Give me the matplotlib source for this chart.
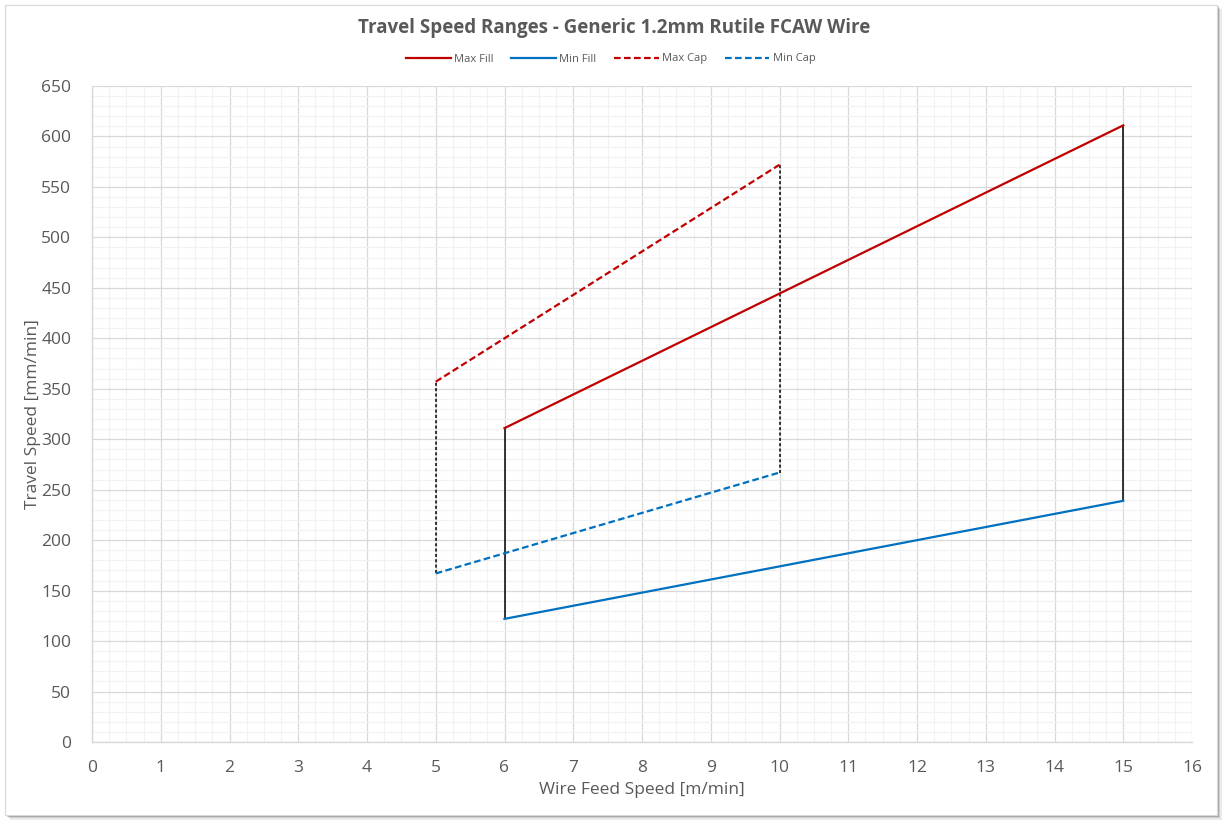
import matplotlib.pyplot as plt
from matplotlib.patches import Rectangle
from matplotlib.ticker import MultipleLocator

# data
fill_wfs = [6, 15]
max_fill = [311, 611]
min_fill = [122, 239]
cap_wfs = [5, 10]
max_cap = [357, 572]
min_cap = [167, 267]

plt.rcParams['font.family'] = ['Open Sans', 'DejaVu Sans']
grey_text = '#595959'

fig = plt.figure(figsize=(12.29, 8.30), dpi=100)

# chart frame with a soft shadow, like the spreadsheet chart box
for i, a in enumerate([0.08, 0.12, 0.18]):
    off = (3 - i) * 1.5
    fig.patches.append(Rectangle((5 / 1229 + off / 1229, 15 / 830 - off / 830), 1212 / 1229, 810 / 830,
                                 transform=fig.transFigure, facecolor='black', alpha=a,
                                 edgecolor='none', zorder=0))
fig.patches.append(Rectangle((5 / 1229, 15 / 830), 1212 / 1229, 810 / 830,
                             transform=fig.transFigure, facecolor='white',
                             edgecolor='#d9d9d9', linewidth=0.8, zorder=1))

ax = fig.add_axes([92 / 1229, 1 - 742 / 830, 1100 / 1229, 656 / 830])
ax.set_zorder(2)
ax.patch.set_alpha(0)

ax.set_xlim(0, 16)
ax.set_ylim(0, 650)
ax.xaxis.set_major_locator(MultipleLocator(1))
ax.xaxis.set_minor_locator(MultipleLocator(0.25))
ax.yaxis.set_major_locator(MultipleLocator(50))
ax.yaxis.set_minor_locator(MultipleLocator(10))
ax.grid(True, which='minor', color='#f2f2f2', linewidth=0.9)
ax.grid(True, which='major', color='#d9d9d9', linewidth=0.9)
ax.set_axisbelow(True)

for s in ['top', 'right']:
    ax.spines[s].set_visible(False)
for s in ['left', 'bottom']:
    ax.spines[s].set_color('#d9d9d9')
    ax.spines[s].set_linewidth(1.0)
ax.tick_params(which='both', length=0, colors=grey_text, labelsize=12.5)
ax.tick_params(axis='x', pad=13)
ax.tick_params(axis='y', pad=15)

red = '#c00000'
blue = '#0070c0'
ax.plot(fill_wfs, max_fill, color=red, lw=1.6, label='Max Fill', zorder=3)
ax.plot(fill_wfs, min_fill, color=blue, lw=1.6, label='Min Fill', zorder=3)
ax.plot(cap_wfs, max_cap, color=red, lw=1.6, ls=(0, (3, 1.5)), label='Max Cap', zorder=3)
ax.plot(cap_wfs, min_cap, color=blue, lw=1.6, ls=(0, (3, 1.5)), label='Min Cap', zorder=3)

# vertical connectors closing each envelope
for i in range(2):
    ax.plot([fill_wfs[i], fill_wfs[i]], [min_fill[i], max_fill[i]], color='black', lw=1.1,
            zorder=2, solid_capstyle='butt')
    ax.plot([cap_wfs[i], cap_wfs[i]], [min_cap[i], max_cap[i]], color='black', lw=1.1,
            ls=(0, (2, 1.5)), zorder=2)

ax.set_xlabel('Wire Feed Speed [m/min]', color=grey_text, fontsize=12.5, labelpad=4)
ax.set_ylabel('Travel Speed [mm/min]', color=grey_text, fontsize=12.5, labelpad=0)

fig.text(0.5, 1 - 28 / 830, 'Travel Speed Ranges - Generic 1.2mm Rutile FCAW Wire',
         ha='center', va='center', fontsize=13.5, fontweight='bold', color=grey_text)
fig.legend(loc='center', bbox_to_anchor=(0.497, 1 - 59 / 830), ncol=4, frameon=False,
           fontsize=8, labelcolor=grey_text, handlelength=4, handletextpad=0.3,
           columnspacing=1.6)

fig.savefig('out.png', dpi=100)
